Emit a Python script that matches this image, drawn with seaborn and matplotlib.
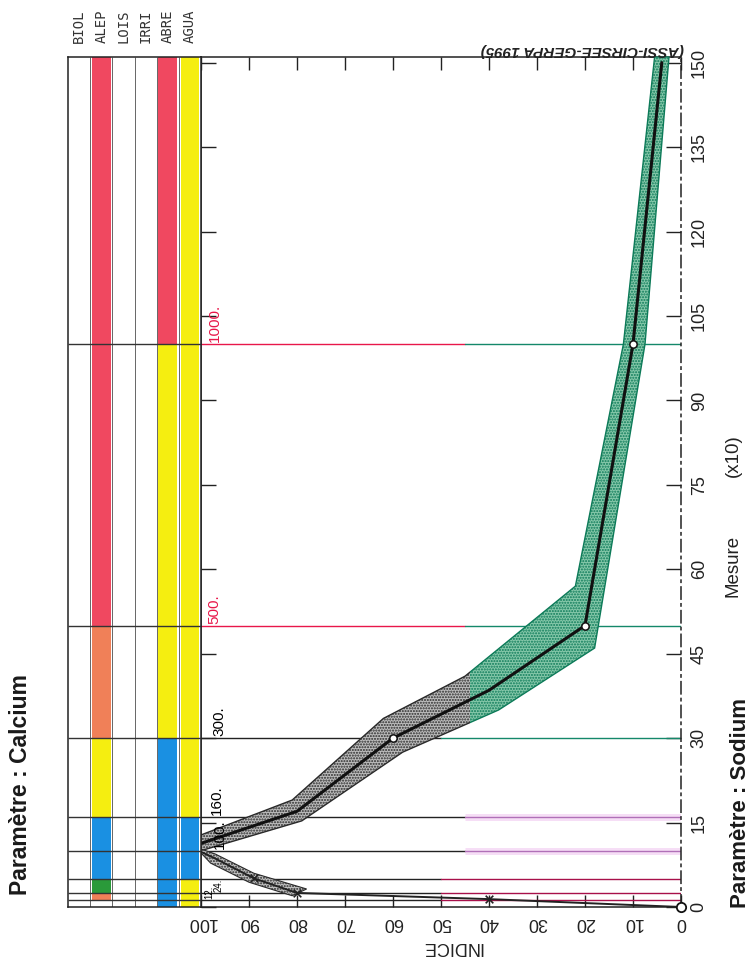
import numpy as np
import pandas as pd
import matplotlib
matplotlib.use("Agg")
import matplotlib.pyplot as plt
from matplotlib.patches import Rectangle, Polygon
import seaborn as sns

# ---------------- data ----------------
mesure_ticks = [0, 15, 30, 45, 60, 75, 90, 105, 120, 135, 150]
indice_ticks = [0, 10, 20, 30, 40, 50, 60, 70, 80, 90, 100]

# main Calcium curve (indice, mesure)
curve_indice = [100, 80, 60, 40, 20, 10, 4]
curve_mesure = [11.3, 17.0, 30.0, 38.5, 50.0, 100.0, 150.0]
curve_marker_indice = [60, 20, 10]
curve_marker_mesure = [30.0, 50.0, 100.0]

# envelope of the main curve
env_hi_indice = [100, 81, 62, 45, 22, 12, 5.5]
env_hi_mesure = [12.8, 19.0, 33.5, 41.0, 57.0, 100.0, 151.0]
env_lo_indice = [100, 79, 58, 38, 18, 7.5, 2.5]
env_lo_mesure = [10.0, 15.3, 27.5, 35.0, 46.0, 100.0, 151.0]

# rising curve
rise_indice = [0, 40, 80, 89, 97, 100]
rise_mesure = [0.0, 1.4, 2.5, 5.1, 8.6, 9.8]
rise_marker_indice = [40, 80, 89]
rise_marker_mesure = [1.4, 2.5, 5.1]
rise_env_hi_indice = [78, 89, 97, 100]
rise_env_hi_mesure = [3.2, 6.0, 9.4, 10.3]
rise_env_lo_indice = [100, 98, 90, 81]
rise_env_lo_mesure = [9.6, 7.8, 4.4, 2.0]

# class limits
thr_mesure = [1.2, 2.4, 5.0, 10.0, 16.0, 30.0, 50.0, 100.0]
thr_label = ["12.", "24.", "", "100.", "160.", "300.", "500.", "1000."]
thr_label_x = [99.4, 97.4, 98.2, 97.6, 98.2, 97.6, 98.6, 98.6]
thr_label_color = ["black"] * 6 + ["#e8174a", "#e8174a"]
thr_left_color = ["#222222"] * 6 + ["#e8174a", "#e8174a"]
thr_right_color = ["#a8104a", "#a8104a", "#a8104a", "#b070b8", "#b070b8",
                   "#14886a", "#14886a", "#14886a"]
thr_split = [50, 50, 50, 45, 45, 50, 45, 45]

# usage columns
columns = ["BIOL", "ALEP", "LOIS", "IRRI", "ABRE", "AGUA"]
RED, ORANGE, YELLOW, BLUE, GREEN = "#f04860", "#f08058", "#f5ee10", "#1a90e2", "#2a9a3a"
seg_BIOL = []
seg_ALEP = [(1.2, 2.4, ORANGE), (2.4, 5.0, GREEN), (5.0, 16.0, BLUE),
            (16.0, 30.0, YELLOW), (30.0, 50.0, ORANGE), (50.0, 151.0, RED)]
seg_LOIS = []
seg_IRRI = []
seg_ABRE = [(0.0, 30.0, BLUE), (30.0, 100.0, YELLOW), (100.0, 151.0, RED)]
seg_AGUA = [(0.0, 5.0, YELLOW), (5.0, 16.0, BLUE), (16.0, 151.0, YELLOW)]
segments = [seg_BIOL, seg_ALEP, seg_LOIS, seg_IRRI, seg_ABRE, seg_AGUA]

# ---------------- figure ----------------
sns.set_style("white")
plt.rcParams['font.family'] = ['Liberation Sans', 'DejaVu Sans']
plt.rcParams['hatch.linewidth'] = 1.0

W, H = 754, 968
fig = plt.figure(figsize=(W / 100, H / 100), dpi=100)
PL, PR, PB, PT = 201, 681, 907, 57
ax = fig.add_axes([PL / W, (H - PB) / H, (PR - PL) / W, (PB - PT) / H])
axb = fig.add_axes([68 / W, (H - PB) / H, (PL - 68) / W, (PB - PT) / H], sharey=ax)

ax.set_xlim(100, 0)
ax.set_ylim(0, 151)

# class limit lines
for m, lab, lx, lc, lcol, rcol, sp in zip(thr_mesure, thr_label, thr_label_x,
                                          thr_label_color, thr_left_color,
                                          thr_right_color, thr_split):
    if rcol == "#b070b8":
        ax.plot([sp, 0], [m, m], color="#f0c8f0", lw=5, alpha=0.6, zorder=1,
                solid_capstyle="butt")
    ax.plot([100, sp], [m, m], color=lcol, lw=1.0, zorder=2)
    ax.plot([sp, 0], [m, m], color=rcol, lw=1.0, zorder=2)
    if lab:
        small = m < 10
        ax.text(lx, m + 0.3, lab, rotation=90, ha="left", va="bottom",
                color=lc, fontsize=7 if small else 11, zorder=8)

# envelope of main curve (grey part and green part)
verts = list(zip(env_hi_indice, env_hi_mesure)) + \
    list(zip(env_lo_indice, env_lo_mesure))[::-1]
clip_grey = Rectangle((44, -10), 70, 200, transform=ax.transData)
clip_green = Rectangle((-10, -10), 54, 200, transform=ax.transData)
pg = Polygon(verts, closed=True, facecolor="#bdbdbd", edgecolor="#2a2a2a",
             hatch="......", lw=1.0, zorder=3)
ax.add_patch(pg)
pg.set_clip_path(clip_grey)
pgr = Polygon(verts, closed=True, facecolor="#86c8aa", edgecolor="#0c7a58",
              hatch="......", lw=1.0, zorder=3)
ax.add_patch(pgr)
pgr.set_clip_path(clip_green)

# rising curve envelope
rverts = list(zip(rise_env_hi_indice, rise_env_hi_mesure)) + \
    list(zip(rise_env_lo_indice, rise_env_lo_mesure))
prr = Polygon(rverts, closed=True, facecolor="#c4c4c4", edgecolor="#2a2a2a",
              hatch="......", lw=0.8, zorder=3)
ax.add_patch(prr)

df_curve = pd.DataFrame({"indice": curve_indice, "mesure": curve_mesure})
sns.lineplot(data=df_curve, x="indice", y="mesure", sort=False, estimator=None,
             color="#111111", lw=2.2, ax=ax, zorder=5)
df_rise = pd.DataFrame({"indice": rise_indice, "mesure": rise_mesure})
sns.lineplot(data=df_rise, x="indice", y="mesure", sort=False, estimator=None,
             color="#222222", lw=1.4, ax=ax, zorder=5)
sns.scatterplot(x=curve_marker_indice, y=curve_marker_mesure, ax=ax, s=28,
                marker="o", facecolor="white", edgecolor="#111111",
                linewidth=1.1, zorder=6)
sns.scatterplot(x=rise_marker_indice, y=rise_marker_mesure, ax=ax, s=30,
                marker="x", color="#222222", linewidth=1.2, zorder=6)
sns.scatterplot(x=[0], y=[0], ax=ax, s=45, marker="o", facecolor="white",
                edgecolor="#111111", linewidth=1.3, zorder=7, clip_on=False)

# axes styling
for s in ["left", "top", "bottom", "right"]:
    ax.spines[s].set_visible(True)
    ax.spines[s].set_color("#222222")
    ax.spines[s].set_linewidth(1.1)
ax.spines["right"].set_linestyle((0, (8, 3, 1.5, 3)))
ax.set_xticks(indice_ticks)
ax.set_xticklabels([str(v) for v in indice_ticks], rotation=180)
ax.set_yticks(mesure_ticks)
ax.set_yticklabels([str(v) for v in mesure_ticks], rotation=90, va="center")
ax.tick_params(axis="x", direction="in", length=9, width=1.0, top=True,
               bottom=True, labelsize=13, pad=5, colors="#222222")
ax.tick_params(axis="y", direction="in", length=11, width=1.0, left=True,
               right=True, labelleft=False, labelright=True, labelsize=13,
               pad=7, colors="#222222")
ax.set_xlabel("")
ax.set_ylabel("")

# usage band axes
axb.set_xlim(0, 6)
for i, segs in enumerate(segments):
    for lo, hi, c in segs:
        axb.bar(i + 0.5, hi - lo, bottom=lo, width=0.84, color=c,
                linewidth=0, zorder=1)
axb.hlines(thr_mesure, 0, 6, color="#333333", lw=1.0, zorder=3)
axb.vlines(range(1, 6), 0, 151, color="#666666", lw=0.7, zorder=2)
for s in ["left", "top", "bottom", "right"]:
    axb.spines[s].set_visible(True)
    axb.spines[s].set_color("#222222")
    axb.spines[s].set_linewidth(1.1)
axb.tick_params(left=False, labelleft=False, bottom=False, labelbottom=False,
                right=False, labelright=False)
for i, name in enumerate(columns):
    xc = 68 + (PL - 68) * (i + 0.5) / 6
    fig.text(xc / W, 1 - 26 / H, name, rotation=90, ha="center", va="center",
             family="DejaVu Sans Mono", fontsize=10, color="#333333")

# texts
fig.text(452 / W, 1 - 946 / H, "INDICE", rotation=180, ha="center",
         va="center", fontsize=13, color="#222222")
fig.text(733 / W, 1 - 566 / H, "Mesure", rotation=90, ha="center",
         va="center", fontsize=13.5, color="#222222")
fig.text(733 / W, 1 - 456 / H, "(x10)", rotation=90, ha="center",
         va="center", fontsize=13.5, color="#222222")
fig.text(21 / W, 1 - 785 / H, "Paramètre : Calcium", rotation=90,
         ha="center", va="center", fontsize=16.5, fontweight="bold",
         color="#1a1a1a")
fig.text(740 / W, 1 - 803 / H, "Paramètre : Sodium", rotation=90,
         ha="center", va="center", fontsize=16, fontweight="bold",
         color="#1a1a1a")
fig.text(684 / W, 1 - 50 / H, "(ASSI-CIRSEE-GERPA 1995)", rotation=180,
         ha="right", va="center", fontsize=11, fontweight="bold",
         style="italic", color="#222222")

fig.savefig("out.png", dpi=100)
